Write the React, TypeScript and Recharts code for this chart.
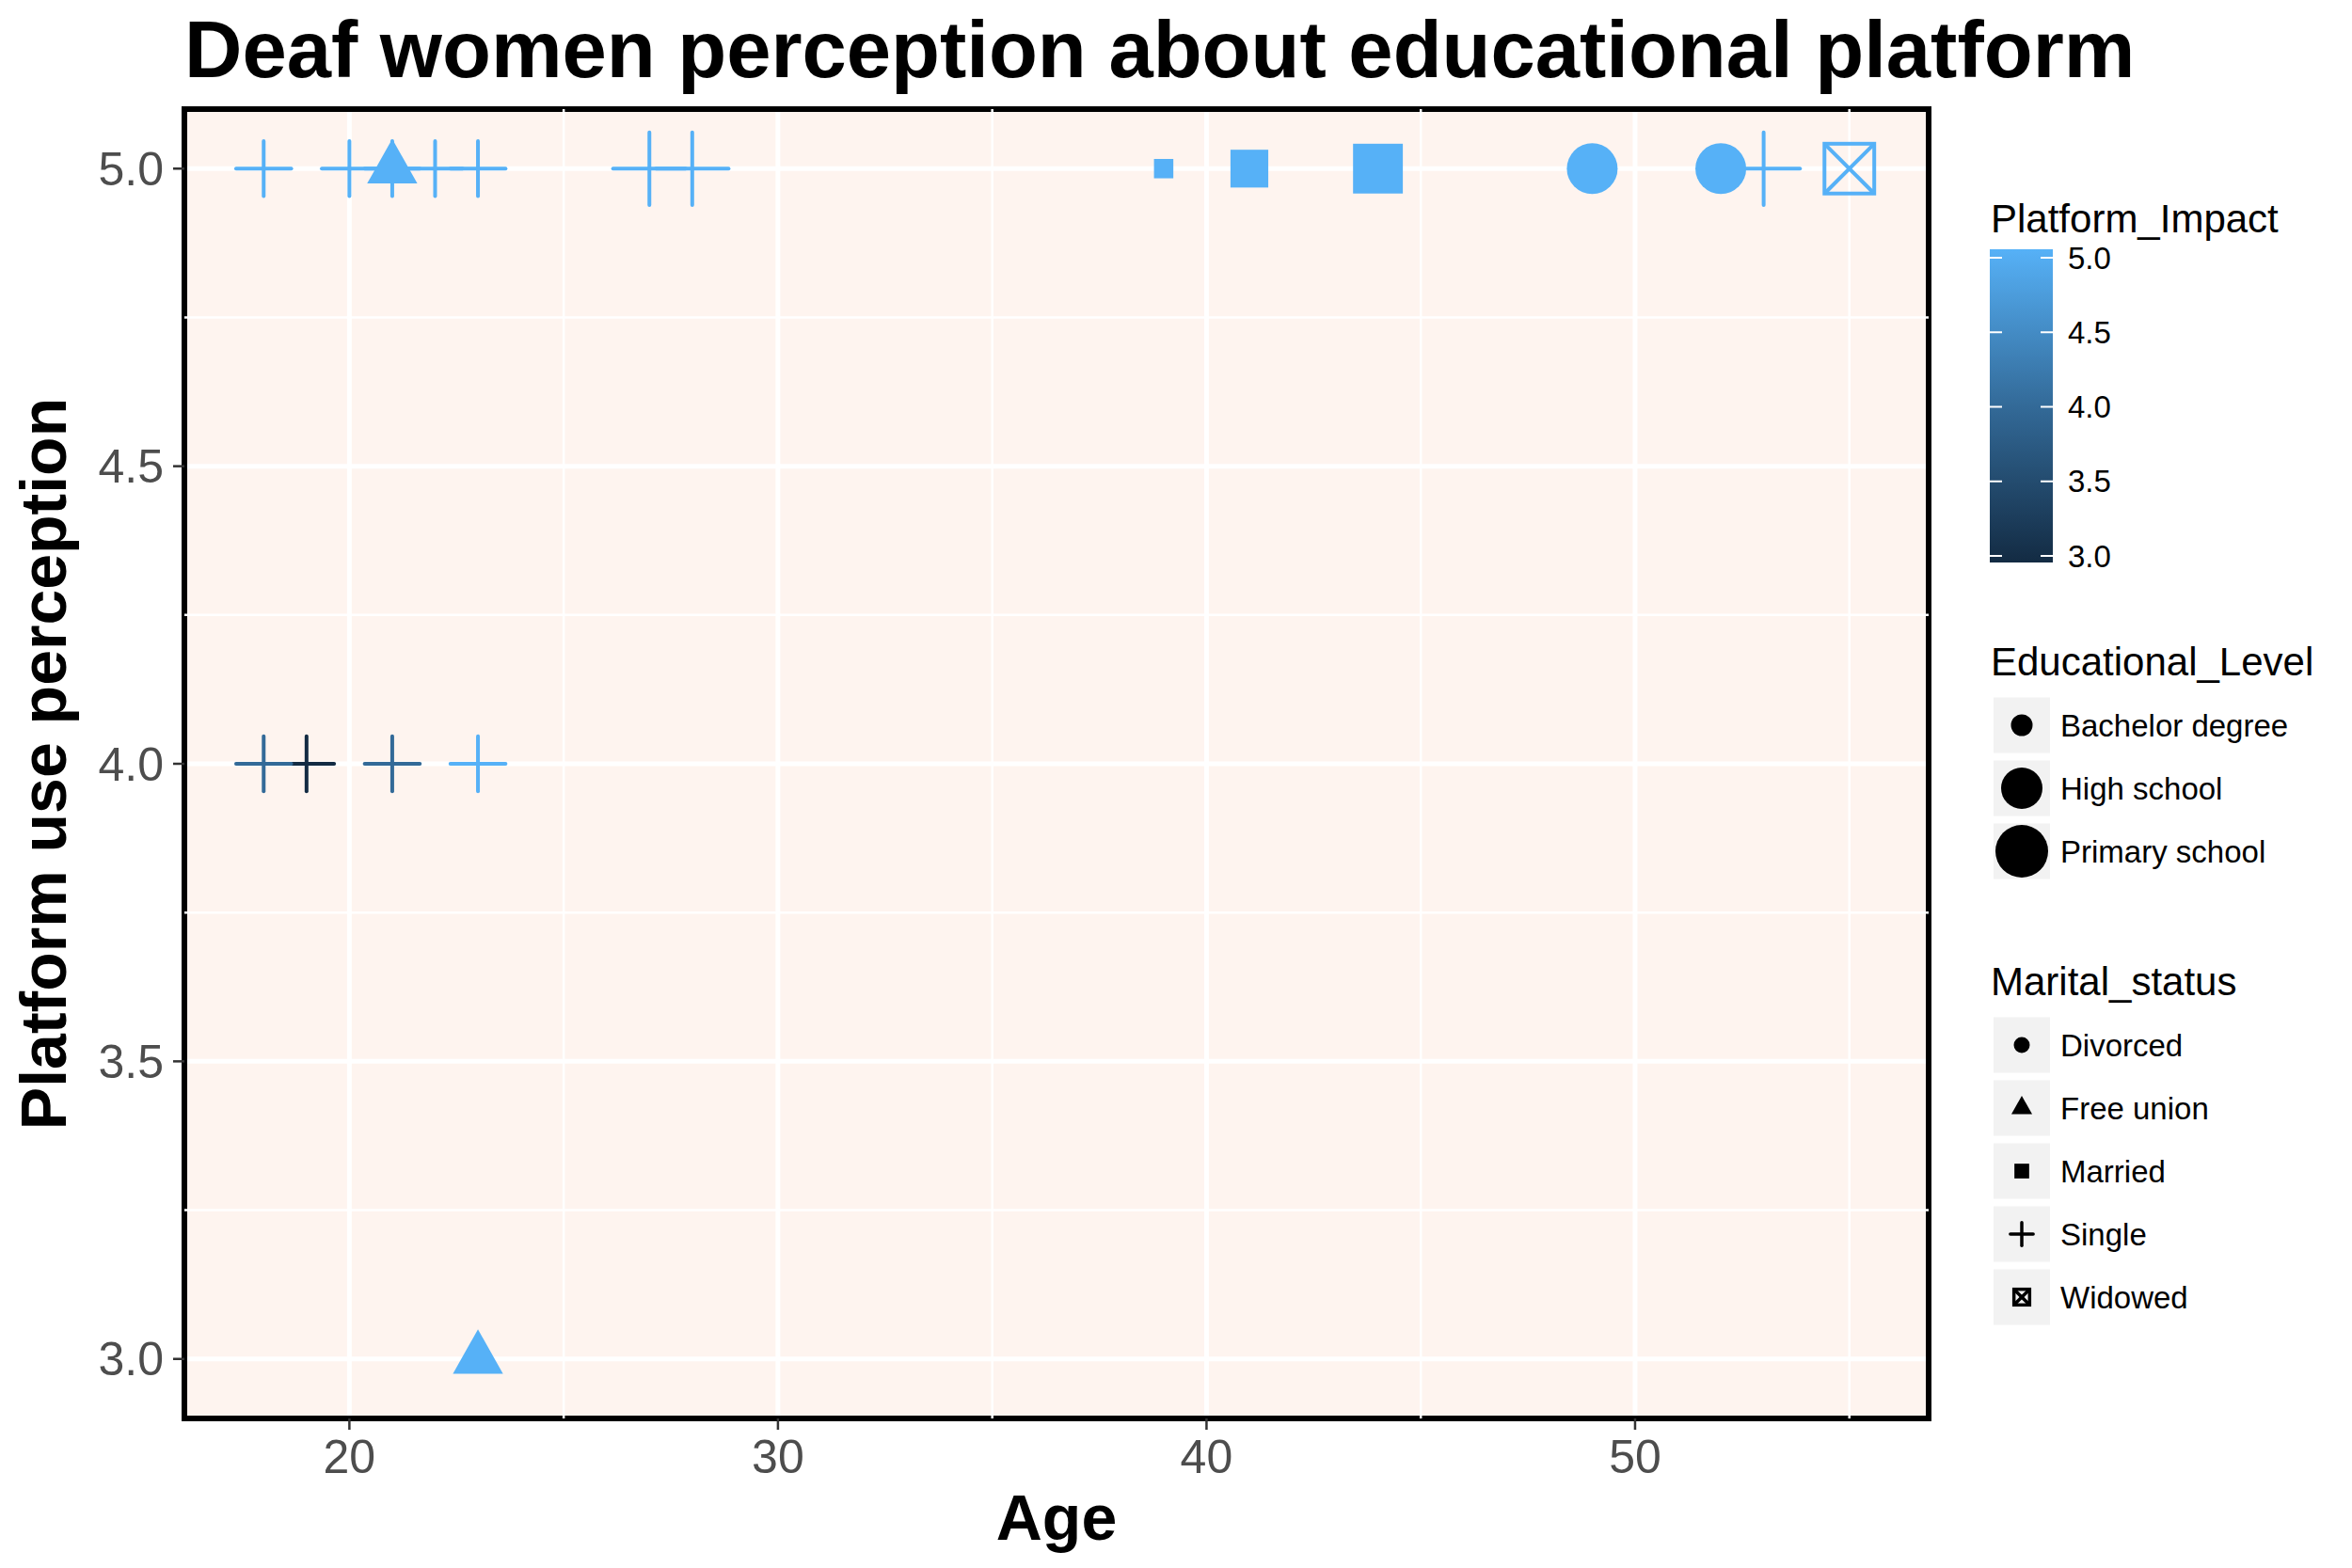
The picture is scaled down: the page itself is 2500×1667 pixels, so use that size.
import React from 'react';
import { ScatterChart, Scatter, XAxis, YAxis, CartesianGrid, ReferenceLine, ReferenceArea } from 'recharts';

// one entry per respondent, in drawing order
const ages = [19, 18, 21, 23, 18, 20, 21, 22, 23, 21, 23, 27, 28, 39, 41, 44, 53, 49, 52, 55];
const perception = [4, 4, 4, 4, 5, 5, 5, 5, 5, 5, 3, 5, 5, 5, 5, 5, 5, 5, 5, 5];
const impact = [3, 4, 4, 5, 5, 5, 5, 5, 5, 5, 5, 5, 5, 5, 5, 5, 5, 5, 5, 5];
const education = [
  'High school', 'High school', 'High school', 'High school', 'High school',
  'High school', 'High school', 'High school', 'High school', 'High school',
  'High school', 'Primary school', 'Primary school', 'Bachelor degree', 'High school',
  'Primary school', 'Primary school', 'Primary school', 'Primary school', 'Primary school',
];
const marital = [
  'Single', 'Single', 'Single', 'Single', 'Single',
  'Single', 'Single', 'Single', 'Single', 'Free union',
  'Free union', 'Single', 'Single', 'Married', 'Married',
  'Married', 'Single', 'Divorced', 'Divorced', 'Widowed',
];

const xTicks = [20, 30, 40, 50];
const xMinor = [25, 35, 45, 55];
const yTicks = [3, 3.5, 4, 4.5, 5];
const yMinor = [3.25, 3.75, 4.25, 4.75];

const eduLevels = ['Bachelor degree', 'High school', 'Primary school'];
const maritalLevels = ['Divorced', 'Free union', 'Married', 'Single', 'Widowed'];
const impactTicks = [5.0, 4.5, 4.0, 3.5, 3.0];

const data = ages.map((a, i) => ({
  age: a,
  perception: perception[i],
  impact: impact[i],
  education: education[i],
  marital: marital[i],
}));

const FONT = "'Liberation Sans', Arial, Helvetica, sans-serif";
const PANEL_BG = '#FEF4EF';

// point "diameter" in px per educational level
const SIZE: Record<string, number> = {
  'Bachelor degree': 21,
  'High school': 41,
  'Primary school': 54,
};

const LOW = [0x13, 0x2b, 0x43];
const MID = [0x33, 0x6a, 0x98];
const HIGH = [0x56, 0xb1, 0xf7];

const colorFor = (v: number) => {
  const t = Math.max(0, Math.min(1, (v - 3) / 2));
  const [a, b, u] = t < 0.5 ? [LOW, MID, t * 2] : [MID, HIGH, (t - 0.5) * 2];
  const ch = a.map((c, i) => Math.round(c + (b[i] - c) * u));
  return `rgb(${ch[0]},${ch[1]},${ch[2]})`;
};

const drawShape = (kind: string, cx: number, cy: number, d: number, c: string, sw: number) => {
  switch (kind) {
    case 'Divorced':
      return <circle cx={cx} cy={cy} r={d / 2} fill={c} />;
    case 'Married': {
      const s = d * 0.98;
      return <rect x={cx - s / 2} y={cy - s / 2} width={s} height={s} fill={c} />;
    }
    case 'Free union': {
      const w = d * 1.3;
      const h = d * 1.15;
      return (
        <polygon
          points={`${cx - w / 2},${cy + h / 3} ${cx + w / 2},${cy + h / 3} ${cx},${cy - (2 * h) / 3}`}
          fill={c}
        />
      );
    }
    case 'Single': {
      const l = (d * 1.43) / 2;
      return (
        <g stroke={c} strokeWidth={sw} strokeLinecap="round">
          <line x1={cx - l} y1={cy} x2={cx + l} y2={cy} />
          <line x1={cx} y1={cy - l} x2={cx} y2={cy + l} />
        </g>
      );
    }
    default: {
      const s = d * 0.98;
      const h = s / 2;
      return (
        <g stroke={c} strokeWidth={sw} fill="none">
          <rect x={cx - h} y={cy - h} width={s} height={s} />
          <line x1={cx - h} y1={cy - h} x2={cx + h} y2={cy + h} />
          <line x1={cx - h} y1={cy + h} x2={cx + h} y2={cy - h} />
        </g>
      );
    }
  }
};

const renderPoint = (props: any) => {
  const { cx, cy, payload } = props;
  if (cx == null || cy == null) return <g />;
  return drawShape(payload.marital, cx, cy, SIZE[payload.education], colorFor(payload.impact), 4);
};

const legendKeySmall: Record<string, number> = {
  Divorced: 17,
  'Free union': 17,
  Married: 16,
  Single: 17,
  Widowed: 17,
};

const Overlay = () => {
  const keyX = 2119;
  const labelX = 2190;
  const eduRows = [771, 838, 905];
  const marRows = [1111, 1178, 1245, 1312, 1379];
  const barTop = 265;
  const barBottom = 598;
  const tickY = (v: number) => 274 + ((5 - v) / 2) * (591 - 274);
  return (
    <svg
      width={2500}
      height={1667}
      style={{ position: 'absolute', left: 0, top: 0, pointerEvents: 'none' }}
      fontFamily={FONT}
    >
      <text x={196} y={82} fontSize={85} fontWeight="bold" fill="#000">
        Deaf women perception about educational platform
      </text>
      <text x={1123} y={1637} fontSize={68} fontWeight="bold" fill="#000" textAnchor="middle">
        Age
      </text>
      <text
        x={70}
        y={812}
        fontSize={68}
        fontWeight="bold"
        fill="#000"
        textAnchor="middle"
        transform="rotate(-90, 70, 812)"
      >
        Platform use perception
      </text>

      {/* colour bar */}
      <defs>
        <linearGradient id="impactGrad" x1="0" y1="0" x2="0" y2="1">
          <stop offset="0%" stopColor="#56B1F7" />
          <stop offset="50%" stopColor="#336A98" />
          <stop offset="100%" stopColor="#132B43" />
        </linearGradient>
      </defs>
      <text x={2116} y={247} fontSize={42} fill="#000">Platform_Impact</text>
      <rect x={2115} y={barTop} width={67} height={barBottom - barTop} fill="url(#impactGrad)" />
      {impactTicks.map((v) => (
        <g key={v}>
          <line x1={2115} x2={2128} y1={tickY(v)} y2={tickY(v)} stroke="#fff" strokeWidth={2} />
          <line x1={2169} x2={2182} y1={tickY(v)} y2={tickY(v)} stroke="#fff" strokeWidth={2} />
          <text x={2198} y={tickY(v) + 11.5} fontSize={33} fill="#000">{v.toFixed(1)}</text>
        </g>
      ))}

      {/* educational level */}
      <text x={2116} y={718} fontSize={42} fill="#000">Educational_Level</text>
      {eduLevels.map((lv, i) => (
        <g key={lv}>
          <rect x={keyX} y={eduRows[i] - 29.5} width={60} height={59} fill="#F2F2F2" />
          <circle cx={keyX + 30} cy={eduRows[i]} r={[23, 44, 56][i] / 2} fill="#000" />
          <text x={labelX} y={eduRows[i] + 11.5} fontSize={33} fill="#000">{lv}</text>
        </g>
      ))}

      {/* marital status */}
      <text x={2116} y={1058} fontSize={42} fill="#000">Marital_status</text>
      {maritalLevels.map((lv, i) => (
        <g key={lv}>
          <rect x={keyX} y={marRows[i] - 29.5} width={60} height={59} fill="#F2F2F2" />
          {drawShape(lv, keyX + 30, marRows[i], legendKeySmall[lv], '#000', 3.5)}
          <text x={labelX} y={marRows[i] + 11.5} fontSize={33} fill="#000">{lv}</text>
        </g>
      ))}
    </svg>
  );
};

export default function App() {
  const xDomain: [number, number] = [16.15, 56.85];
  const yDomain: [number, number] = [2.9, 5.1];
  const tickStyle = { fontSize: 50, fill: '#4D4D4D', fontFamily: FONT };
  return (
    <div style={{ position: 'absolute', left: 0, top: 0, width: 2500, height: 1667, background: '#fff' }}>
      <ScatterChart width={2500} height={1667} margin={{ top: 116, right: 450, bottom: 79, left: 76 }}>
        <CartesianGrid stroke="#ffffff" strokeWidth={5} fill={PANEL_BG} fillOpacity={1} />
        {xMinor.map((v) => (
          <ReferenceLine key={`xm${v}`} x={v} stroke="#ffffff" strokeWidth={2.5} />
        ))}
        {yMinor.map((v) => (
          <ReferenceLine key={`ym${v}`} y={v} stroke="#ffffff" strokeWidth={2.5} />
        ))}
        <XAxis
          type="number"
          dataKey="age"
          domain={xDomain}
          ticks={xTicks}
          allowDataOverflow
          height={80}
          axisLine={false}
          tickSize={12}
          tickMargin={10}
          tickLine={{ stroke: '#333333', strokeWidth: 2.5 }}
          tick={tickStyle}
        />
        <YAxis
          type="number"
          dataKey="perception"
          domain={yDomain}
          ticks={yTicks}
          allowDataOverflow
          width={120}
          axisLine={false}
          tickSize={12}
          tickMargin={10}
          tickLine={{ stroke: '#333333', strokeWidth: 2.5 }}
          tick={tickStyle}
          tickFormatter={(v: number) => v.toFixed(1)}
        />
        <Scatter data={data} shape={renderPoint} isAnimationActive={false} />
        <ReferenceArea
          x1={xDomain[0]}
          x2={xDomain[1]}
          y1={yDomain[0]}
          y2={yDomain[1]}
          fill="none"
          fillOpacity={0}
          stroke="#000000"
          strokeWidth={6}
        />
      </ScatterChart>
      <Overlay />
    </div>
  );
}
